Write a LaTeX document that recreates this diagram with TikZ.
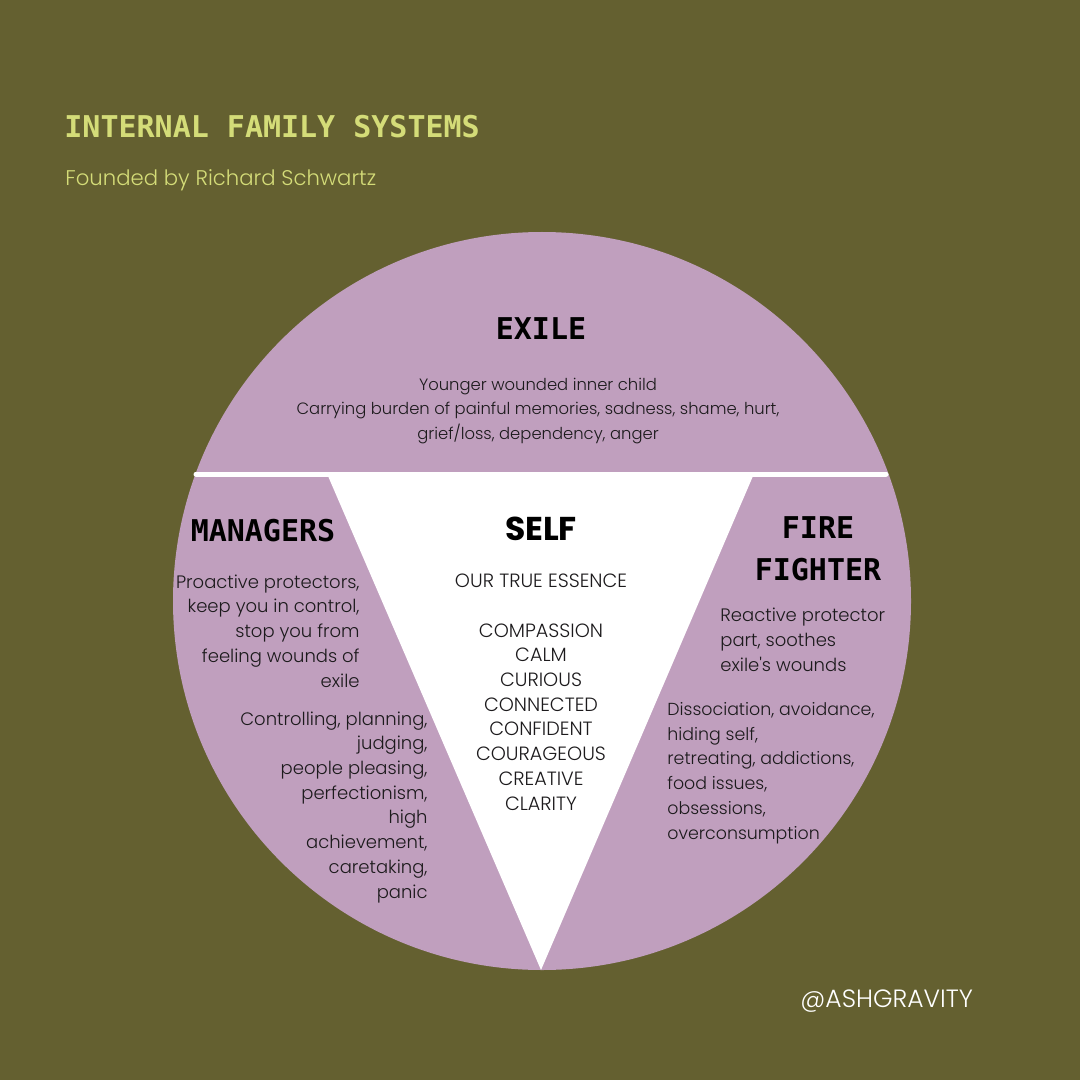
\documentclass[tikz,border=0pt]{standalone}
\usepackage{fontspec}
\newfontfamily\bodyfont{Poppins Light}
\newfontfamily\selffont{Poppins}
\newfontfamily\monofont{DejaVu Sans Mono}
\definecolor{bgolive}{HTML}{646030}
\definecolor{mauve}{HTML}{C09FBE}
\definecolor{titlegreen}{HTML}{D4DC78}
\definecolor{inkgrey}{HTML}{1C1A1C}
\tikzset{%
	title/.style    = {font=\monofont\bfseries\fontsize{15}{18}\selectfont,
		text=titlegreen, anchor=base west, inner sep=0},
	part/.style     = {font=\monofont\bfseries\fontsize{15}{21}\selectfont,
		text=black, inner sep=0}, % Heading of a part
	body/.style     = {font=\bodyfont\fontsize{9}{12.35}\selectfont,
		text=inkgrey, inner sep=0} % Text of a part
}

\begin{document}
\begin{tikzpicture}[x=0.5pt,y=-0.5pt]
			\fill[bgolive] (0,0) rectangle (1080,1080);
			\useasboundingbox (0,0) rectangle (1080,1080);
			
			\fill[mauve] (542,601) circle (369);
			\draw[white,line width=2.5pt,line cap=round] (196,474) -- (886,474);
			\fill[white] (328,476) -- (753,476) -- (541,970) -- cycle;
			
			\node[title]     (ifs)      at (64,138) {INTERNAL FAMILY SYSTEMS} ;
			\node[body,font=\bodyfont\fontsize{10.6}{13}\selectfont,text=titlegreen,anchor=base west]
				(founder) at (65,186) {Founded by Richard Schwartz} ;
			
			% multi-line nodes sit on the baseline of their last line
			\node[part,anchor=base] (exile) at (541,340) {EXILE} ;
			\node[body,font=\bodyfont\fontsize{8.2}{12.25}\selectfont,align=center,anchor=base]
				(exileText) at (538,439)
				{Younger wounded inner child\\
				Carrying burden of painful memories, sadness, shame, hurt,\\
				grief/loss, dependency, anger} ;
			
			\node[part,anchor=base] (managers) at (263,541) {MANAGERS} ;
			\node[body,align=right,anchor=base east] (managersText) at (360,687)
				{Proactive protectors,\\ keep you in control,\\ stop you from~\\
				feeling wounds of~\\ exile} ;
			\node[body,align=right,anchor=base east] (managersList) at (428,898)
				{Controlling, planning,\\ judging,\\ people pleasing,\\ perfectionism,\\
				high~\\ achievement,~\\ caretaking,\\ panic} ;
			
			\node[font=\selffont\bfseries\fontsize{16.5}{18}\selectfont,anchor=base,inner sep=0]
				(self) at (541,540) {SELF} ;
			\node[body,font=\bodyfont\fontsize{9.6}{12.35}\selectfont,align=center,anchor=base]
				(selfText) at (541,810)
				{OUR TRUE ESSENCE\\[12.35pt]
				COMPASSION\\ CALM\\ CURIOUS\\ CONNECTED\\ CONFIDENT\\
				COURAGEOUS\\ CREATIVE\\ CLARITY} ;
			
			\node[part,align=center,anchor=base] (fireFighter) at (818,580) {FIRE\\FIGHTER} ;
			\node[body,align=left,anchor=base west] (fireText) at (720,671)
				{Reactive protector\\ part, soothes\\ exile's wounds} ;
			\node[body,font=\bodyfont\fontsize{8.7}{12.35}\selectfont,align=left,anchor=base west]
				(fireList) at (667,839)
				{Dissociation, avoidance,\\ hiding self,\\ retreating, addictions,\\
				food issues,\\ obsessions,\\ overconsumption} ;
			
			\node[font=\bodyfont\fontsize{12.5}{15}\selectfont,text=white,anchor=base west,inner sep=0]
				(handle) at (800,1007) {@ASHGRAVITY} ;
		\end{tikzpicture}
\end{document}
